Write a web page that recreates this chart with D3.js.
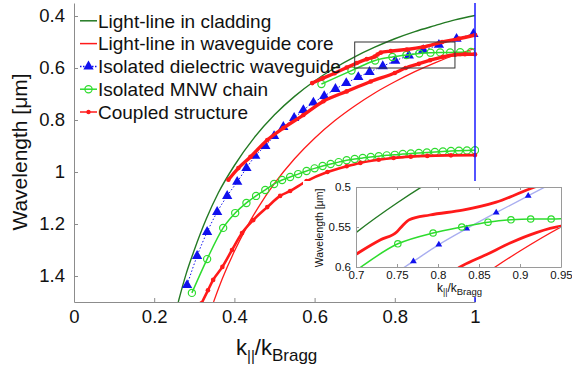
<!DOCTYPE html>
<html><head><meta charset="utf-8">
<script src="https://cdn.jsdelivr.net/npm/d3@7"></script>
<style>body{margin:0;background:#fff}svg{display:block;font-family:"Liberation Sans",Arial,sans-serif}</style>
</head><body><svg id="c" width="572" height="371"></svg>
<script>
// ---------- data ----------
const xTicks = [0,0.2,0.4,0.6,0.8,1];
const yTicks = [0.4,0.6,0.8,1,1.2,1.4];
const insetXTicks = [0.7,0.75,0.8,0.85,0.9,0.95];
const insetYTicks = [0.5,0.55,0.6];
const legendLabels = ["Light-line in cladding","Light-line in waveguide core","Isolated dielectric waveguide","Isolated MNW chain","Coupled structure"];

const cladK = [0.26,0.28,0.30,0.33,0.36,0.40,0.45,0.50,0.55,0.60,0.65,0.70,0.75,0.80,0.85,0.90,0.95,1.00];
const cladL = [1.50,1.39,1.30,1.18,1.08,0.975,0.867,0.78,0.709,0.65,0.60,0.557,0.52,0.4875,0.46,0.437,0.415,0.398];

const coreK = [0.348,0.37,0.40,0.43,0.46,0.50,0.55,0.60,0.65,0.70,0.75,0.80,0.85,0.90,0.95,1.00];
const coreL = [1.50,1.41,1.305,1.214,1.135,1.044,0.949,0.87,0.803,0.746,0.696,0.653,0.614,0.58,0.55,0.525];

const wgK = [0.282,0.307,0.332,0.357,0.382,0.407,0.430,0.452,0.477,0.499,0.522,0.549,0.572,0.597,0.624,0.652,0.679,0.709,0.737,0.770,0.801,0.835,0.871,0.910,0.954,0.996];
const wgL = [1.435,1.323,1.231,1.154,1.092,1.038,0.985,0.938,0.900,0.862,0.827,0.792,0.762,0.733,0.708,0.681,0.658,0.635,0.615,0.593,0.572,0.552,0.532,0.511,0.488,0.469];

const mnwUpK = [0.617,0.692,0.751,0.794,0.829,0.861,0.889,0.913,0.938,0.963,0.99];
const mnwUpL = [0.662,0.610,0.571,0.5575,0.550,0.544,0.541,0.540,0.540,0.539,0.538];

const mnwLoK = [0.294,0.332,0.372,0.402,0.43,0.454,0.477,0.499,0.519,0.539,0.559,0.58,0.60,0.62,0.64,0.66,0.68,0.70,0.72,0.74,0.76,0.78,0.80,0.82,0.84,0.86,0.88,0.90,0.92,0.94,0.96,0.98,1.00];
const mnwLoL = [1.465,1.335,1.215,1.158,1.119,1.092,1.069,1.046,1.031,1.019,1.008,0.996,0.986,0.977,0.969,0.962,0.955,0.950,0.946,0.942,0.939,0.936,0.934,0.931,0.929,0.927,0.925,0.923,0.921,0.919,0.918,0.917,0.916];

const cpLoK = [0.318,0.334,0.347,0.37,0.394,0.419,0.447,0.482,0.514,0.539,0.58,0.632,0.68,0.714,0.76,0.797,0.84,0.881,0.94,1.0];
const cpLoL = [1.505,1.455,1.415,1.365,1.30,1.235,1.185,1.135,1.092,1.073,1.035,1.0,0.978,0.965,0.953,0.946,0.941,0.938,0.936,0.935];

const cpMidK = [0.385,0.41,0.44,0.482,0.522,0.572,0.622,0.68,0.74,0.80,0.827,0.86,0.888,0.92,0.95,0.975,1.0];
const cpMidL = [1.03,0.985,0.942,0.877,0.831,0.781,0.728,0.69,0.652,0.619,0.600,0.584,0.570,0.557,0.549,0.547,0.547];

const cpTopK = [0.594,0.62,0.65,0.68,0.705,0.73,0.75,0.757,0.765,0.79,0.83,0.871,0.918,0.96,1.0];
const cpTopL = [0.658,0.64,0.62,0.598,0.581,0.566,0.556,0.548,0.541,0.535,0.529,0.519,0.50,0.487,0.473];

const zoomBoxK = [0.7,0.95];
const zoomBoxL = [0.5,0.6];

// ---------- styles ----------
const C = {clad:"#237a23", core:"#ff1a1a", wg:"#1010ee", mnw:"#2edc2e", cp:"#ff1a1a", axis:"#8c8c8c", wgLight:"#a9aef0"};
const zip = (a,b)=>a.map((v,i)=>[v,b[i]]);

const svg = d3.select("#c");
const x = d3.scaleLinear().domain([0,1]).range([74,475]);
const y = d3.scaleLinear().domain([0.35,1.5]).range([3,302]);

const defs = svg.append("defs");
defs.append("clipPath").attr("id","mainClip").append("rect")
  .attr("x",x(0)).attr("y",y(0.35)).attr("width",x(1)-x(0)+4).attr("height",y(1.5)-y(0.35));

const main = svg.append("g");
// axes
const xAxis = d3.axisBottom(x).tickValues(xTicks).tickSize(-4).tickSizeOuter(0).tickPadding(8).tickFormat(d3.format("~g"));
const yAxis = d3.axisLeft(y).tickValues(yTicks).tickSize(-4).tickSizeOuter(0).tickPadding(9).tickFormat(d3.format("~g"));
const gx = main.append("g").attr("transform",`translate(0,${y(1.5)})`).call(xAxis);
const gy = main.append("g").attr("transform",`translate(${x(0)},0)`).call(yAxis);
[gx,gy].forEach(g=>{
  g.select(".domain").attr("stroke",C.axis);
  g.selectAll(".tick line").attr("stroke",C.axis);
  g.selectAll("text").attr("font-size",18.5).attr("fill","#111").attr("font-family","Liberation Sans, Arial, sans-serif");
});

function drawSet(g, sx, sy, o){
  const line = d3.line().x(d=>sx(d[0])).y(d=>sy(d[1])).curve(d3.curveMonotoneX);
  g.append("path").datum(zip(cladK,cladL)).attr("d",line).attr("fill","none").attr("stroke",C.clad).attr("stroke-width",1.4);
  g.append("path").datum(zip(coreK,coreL)).attr("d",line).attr("fill","none").attr("stroke",C.core).attr("stroke-width",1.3);
  // waveguide
  g.append("path").datum(zip(wgK,wgL)).attr("d",line).attr("fill","none")
    .attr("stroke",o.inset?C.wgLight:C.wg).attr("stroke-width",o.inset?1.3:1).attr("stroke-dasharray",o.inset?null:"1.5,2");
  g.selectAll(null).data(zip(wgK,wgL)).join("path")
    .attr("transform",d=>`translate(${sx(d[0])},${sy(d[1])})`)
    .attr("d",d3.symbol(d3.symbolTriangle, o.inset?20:46)).attr("fill",C.wg);
  // MNW chain
  [zip(mnwUpK,mnwUpL), zip(mnwLoK,mnwLoL)].forEach(dd=>{
    g.append("path").datum(dd).attr("d",line).attr("fill","none").attr("stroke",C.mnw).attr("stroke-width",1.5);
    g.selectAll(null).data(dd).join("circle").attr("cx",d=>sx(d[0])).attr("cy",d=>sy(d[1]))
      .attr("r",o.inset?3.2:3.6).attr("fill","none").attr("stroke",C.mnw).attr("stroke-width",1.2);
  });
  // coupled
  [zip(cpLoK,cpLoL), zip(cpMidK,cpMidL), zip(cpTopK,cpTopL)].forEach((dd,i)=>{
    g.append("path").datum(dd).attr("d",line).attr("fill","none").attr("stroke",C.cp)
      .attr("stroke-width",o.inset?2.8:(i===0?2.6:3.4)).attr("stroke-linecap","round");
    if(!o.inset){
      g.selectAll(null).data(dd).join("circle").attr("cx",d=>sx(d[0])).attr("cy",d=>sy(d[1]))
        .attr("r",2.3).attr("fill",C.cp);
    }
  });
}

const mainPlot = main.append("g").attr("clip-path","url(#mainClip)");
drawSet(mainPlot, x, y, {inset:false});

// boundary k = 1
main.append("line").attr("x1",x(1)).attr("x2",x(1)).attr("y1",y(0.35)).attr("y2",y(1.5))
  .attr("stroke","#1a1aff").attr("stroke-width",1.5);

// zoom box
main.append("rect").attr("x",x(zoomBoxK[0])).attr("y",y(zoomBoxL[0]))
  .attr("width",x(zoomBoxK[1])-x(zoomBoxK[0])).attr("height",y(zoomBoxL[1])-y(zoomBoxL[0]))
  .attr("fill","none").attr("stroke","#333").attr("stroke-width",1);

// axis titles
main.append("text").attr("transform","translate(27,152) rotate(-90)").attr("text-anchor","middle")
  .attr("font-size",21).attr("fill","#111").text("Wavelength [μm]");
const xt = main.append("text").attr("x",236).attr("y",355).attr("fill","#111");
xt.append("tspan").attr("font-size",22).text("k");
xt.append("tspan").attr("font-size",15).attr("dy",6).text("||");
xt.append("tspan").attr("font-size",22).attr("dy",-6).text("/k");
xt.append("tspan").attr("font-size",17).attr("dy",6).text("Bragg");

// legend
const leg = main.append("g");
legendLabels.forEach((lab,i)=>{
  const cy = 20.8 + i*22.8;
  const g = leg.append("g");
  const colors=[C.clad,C.core,C.wg,C.mnw,C.cp];
  g.append("line").attr("x1",80).attr("x2",97).attr("y1",cy).attr("y2",cy)
    .attr("stroke",colors[i]).attr("stroke-width",1.5).attr("stroke-dasharray",i===2?"1.5,1.5":null);
  if(i===2) g.append("path").attr("transform",`translate(88.5,${cy})`).attr("d",d3.symbol(d3.symbolTriangle,46)).attr("fill",C.wg);
  if(i===3) g.append("circle").attr("cx",88.5).attr("cy",cy).attr("r",3.6).attr("fill","none").attr("stroke",C.mnw).attr("stroke-width",1.2);
  if(i===4) g.append("circle").attr("cx",88.5).attr("cy",cy).attr("r",2.2).attr("fill",C.cp);
  g.append("text").attr("x",98).attr("y",cy+6.7).attr("font-size",19).attr("fill","#111").text(lab);
});

// ---------- inset ----------
svg.append("rect").attr("x",303).attr("y",181).attr("width",269).attr("height",116).attr("fill","#fff");
const ix = d3.scaleLinear().domain([0.7,0.95]).range([356,561]);
const iy = d3.scaleLinear().domain([0.5,0.6]).range([187,267]);
defs.append("clipPath").attr("id","insetClip").append("rect")
  .attr("x",356).attr("y",187).attr("width",205).attr("height",80);
const inset = svg.append("g");
const insetPlot = inset.append("g").attr("clip-path","url(#insetClip)");
drawSet(insetPlot, ix, iy, {inset:true});
const ibot = d3.axisBottom(ix).tickValues(insetXTicks).tickSize(-3).tickSizeOuter(0).tickPadding(4).tickFormat(d3.format("~g"));
const itop = d3.axisTop(ix).tickValues(insetXTicks).tickSize(-3).tickSizeOuter(0).tickFormat("");
const ileft = d3.axisLeft(iy).tickValues(insetYTicks).tickSize(-3).tickSizeOuter(0).tickPadding(5).tickFormat(d3.format("~g"));
const iright = d3.axisRight(iy).tickValues(insetYTicks).tickSize(-3).tickSizeOuter(0).tickFormat("");
const ig = [
  inset.append("g").attr("transform","translate(0,267)").call(ibot),
  inset.append("g").attr("transform","translate(0,187)").call(itop),
  inset.append("g").attr("transform","translate(356,0)").call(ileft),
  inset.append("g").attr("transform","translate(561,0)").call(iright)
];
ig.forEach(g=>{
  g.select(".domain").attr("stroke","#9a9a9a");
  g.selectAll(".tick line").attr("stroke","#9a9a9a");
  g.selectAll("text").attr("font-size",11.5).attr("fill","#111").attr("font-family","Liberation Sans, Arial, sans-serif");
});
inset.append("text").attr("transform","translate(323,228) rotate(-90)").attr("text-anchor","middle")
  .attr("font-size",10.5).attr("fill","#111").text("Wavelength [μm]");
const ixt = inset.append("text").attr("x",437).attr("y",291.5).attr("fill","#111");
ixt.append("tspan").attr("font-size",12).text("k");
ixt.append("tspan").attr("font-size",8.5).attr("dy",3.5).text("||");
ixt.append("tspan").attr("font-size",12).attr("dy",-3.5).text("/k");
ixt.append("tspan").attr("font-size",9.5).attr("dy",3.5).text("Bragg");
</script></body></html>
